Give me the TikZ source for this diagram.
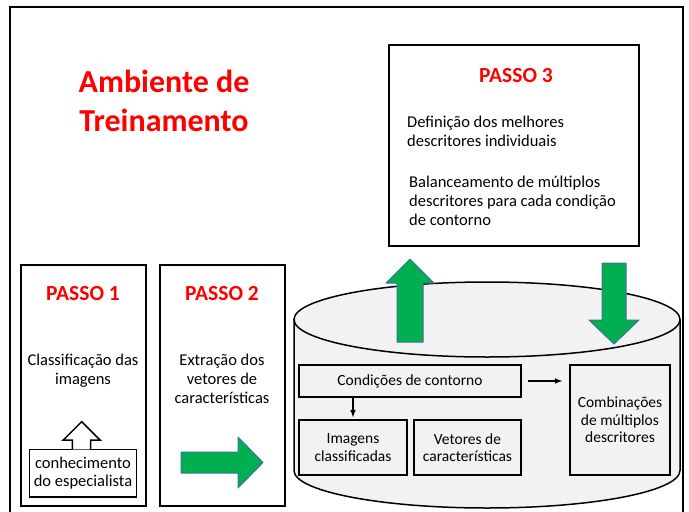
\documentclass[tikz,border=0pt]{standalone}
\usepackage{fontspec}
\setmainfont{Carlito}
\usetikzlibrary{arrows}
\definecolor{passored}{RGB}{255,0,0}
\definecolor{setagreen}{RGB}{0,176,80}
\definecolor{setaborda}{RGB}{65,113,156}
\definecolor{cinza}{RGB}{242,242,242}

\begin{document}
\begin{tikzpicture}[x=1pt, y=-1pt,
  caixa/.style={draw, line width=1.5pt, rectangle, inner sep=0pt},
  caixacinza/.style={caixa, fill=cinza, align=center, font=\fontsize{15.5}{17.5}\selectfont},
  passo/.style={anchor=base, inner sep=0pt, text=passored, font=\bfseries\fontsize{21.5}{25}\selectfont},
  texto/.style={anchor=base, inner sep=0pt, align=center, font=\fontsize{16.5}{19}\selectfont},
  seta/.style={draw=setaborda, fill=setagreen, line width=1pt, line join=round}]
\useasboundingbox (0,0) rectangle (689,512);
\draw[line width=1.5pt] (10,7) rectangle (683,514);

% titulo
\node[anchor=base, inner sep=0pt, align=center, text=passored,
  font=\bfseries\fontsize{32}{39.4}\selectfont] at (164,131.7) (titulo) {Ambiente de\\Treinamento};

% passo 1
\node[caixa, minimum width=125, minimum height=241] at (83.5,385.5) (box1) {};
\node[passo] at (83,300) (p1) {PASSO 1};
\node[texto] at (83,384) (t1) {Classificação das\\imagens};
\node[caixa, align=center, font=\fontsize{16.5}{18.3}\selectfont,
  minimum width=107, minimum height=47.5] at (83,473) (conhec) {conhecimento\\do especialista};
\draw[line width=1.5pt, fill=white] (72.3,449.3) -- (72.3,440) -- (63.3,440) -- (81.7,421.7)
  -- (100,440) -- (90.7,440) -- (90.7,449.3);

% passo 2
\node[caixa, minimum width=125, minimum height=241] at (222.5,385.5) (box2) {};
\node[passo] at (222,300) (p2) {PASSO 2};
\node[texto] at (222,403) (t2) {Extração dos\\vetores de\\características};
\draw[seta] (181,452) -- (238,452) -- (238,437) -- (263,462.5) -- (238,488) -- (238,473)
  -- (181,473) -- cycle;

% passo 3
\node[caixa, minimum width=250, minimum height=201] at (514,145.5) (box3) {};
\node[passo] at (516,82) (p3) {PASSO 3};
\node[texto, anchor=base west, align=left] at (407,146) (t3a) {Definição dos melhores\\descritores individuais};
\node[texto, anchor=base west, align=left] at (409,225) (t3b) {Balanceamento de múltiplos\\descritores para cada condição\\de contorno};

% base de dados
\draw[line width=1.5pt, fill=cinza] (294,319.5) -- (294,470.5)
  arc[start angle=180, end angle=0, x radius=193, y radius=37.5] -- (680,319.5);
\draw[line width=1.5pt, fill=cinza] (487,319.5) ellipse[x radius=193, y radius=37.5];

\node[caixacinza, minimum width=222, minimum height=32] at (410,381) (cond) {Condições de contorno};
\node[caixacinza, minimum width=108, minimum height=55] at (353,447.5) (imag) {Imagens\\classificadas};
\node[caixacinza, minimum width=107, minimum height=55] at (467.5,447.5) (vet) {Vetores de\\características};
\node[caixacinza, minimum width=100, minimum height=110] at (620,420) (comb) {Combinações\\de múltiplos\\descritores};

\path[->, >=latex, line width=1.5pt] (cond.east) edge[shorten <=6pt, shorten >=7pt] (cond.east -| comb.west);
\path[->, >=latex, line width=1.5pt] (imag.north |- cond.south) edge[shorten >=2pt] (imag.north);

% setas verdes
\draw[seta] (397,342) -- (397,283) -- (386,283) -- (410,259) -- (434,283) -- (423,283)
  -- (423,342) -- cycle;
\draw[seta] (602,263) -- (626,263) -- (626,320) -- (639,320) -- (614,344) -- (589,320)
  -- (602,320) -- cycle;
\end{tikzpicture}
\end{document}
